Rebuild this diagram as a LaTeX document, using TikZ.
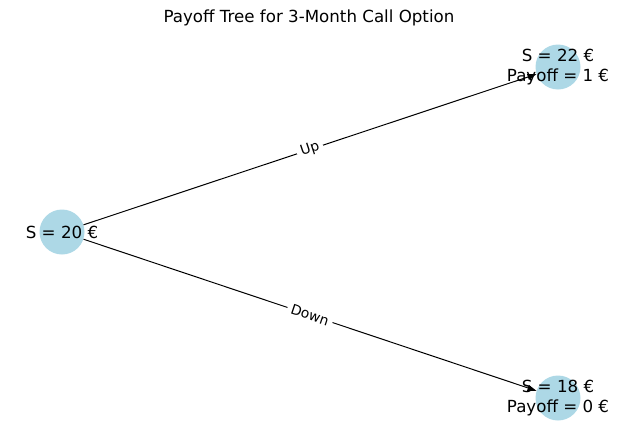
\documentclass[tikz,border=0pt]{standalone}
\usepackage{fontspec}
\setmainfont{DejaVu Sans}
\usetikzlibrary{arrows.meta}
\definecolor{nodeblue}{HTML}{ADD8E6}
\begin{document}
\begin{tikzpicture}[x=1pt,y=-1pt,
  statenode/.style={circle,fill=nodeblue,minimum size=45pt,inner sep=0pt},
  statetext/.style={align=center,font=\fontsize{16.67}{20}\selectfont,inner sep=0pt},
  edgetext/.style={font=\fontsize{13.9}{16}\selectfont,fill=white,inner sep=4pt,sloped},
  conn/.style={line width=1pt,-{Triangle[length=9pt,width=6pt]}}]
\useasboundingbox (0,0) rectangle (619,442);
\node[font=\fontsize{16.67}{20}\selectfont] (title) at (309,18) {Payoff Tree for 3-Month Call Option};
\node[statenode] (s0) at (62,232) {};
\node[statenode] (su) at (558,67) {};
\node[statenode] (sd) at (558,398) {};
\draw[conn] (s0) -- node[edgetext] {Up} (su);
\draw[conn] (s0) -- node[edgetext] {Down} (sd);
\node[statetext] at (s0) {S = 20 €};
\node[statetext] at (su) {S = 22 €\\Payoff = 1 €};
\node[statetext] at (sd) {S = 18 €\\Payoff = 0 €};
\end{tikzpicture}
\end{document}
